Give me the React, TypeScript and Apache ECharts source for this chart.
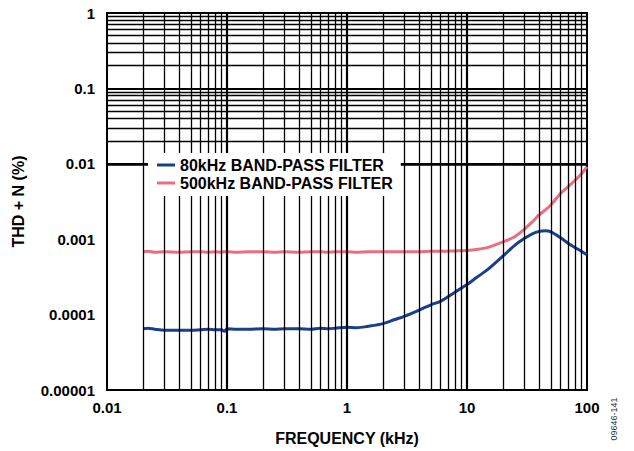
import React, { useEffect, useRef } from "react";
import * as echarts from "echarts";

const freqKHz = [0.02, 0.022, 0.025, 0.03, 0.04, 0.05, 0.06, 0.07, 0.08, 0.09, 0.095, 0.1, 0.12, 0.15, 0.2, 0.25, 0.3, 0.4, 0.5, 0.6, 0.7, 0.8, 1, 1.2, 1.5, 2, 2.5, 3, 4, 5, 6, 8, 10, 12, 15, 20, 25, 30, 35, 40, 45, 50, 60, 70, 80, 90, 100];

const bp80kHz = [6.5e-5, 6.6e-5, 6.4e-5, 6.2e-5, 6.2e-5, 6.2e-5, 6.3e-5, 6.4e-5, 6.3e-5, 6.3e-5, 6.0e-5, 6.5e-5, 6.4e-5, 6.4e-5, 6.5e-5, 6.4e-5, 6.5e-5, 6.5e-5, 6.4e-5, 6.6e-5, 6.5e-5, 6.6e-5, 6.8e-5, 6.7e-5, 7.0e-5, 7.6e-5, 8.6e-5, 9.5e-5, 1.15e-4, 1.35e-4, 1.5e-4, 2.0e-4, 2.5e-4, 3.1e-4, 4.0e-4, 6.0e-4, 8.3e-4, 1.02e-3, 1.18e-3, 1.27e-3, 1.29e-3, 1.25e-3, 1.05e-3, 8.8e-4, 7.7e-4, 6.9e-4, 6.2e-4];

const bp500kHz = [6.8e-4, 6.9e-4, 6.7e-4, 6.8e-4, 6.7e-4, 6.8e-4, 6.8e-4, 6.7e-4, 6.8e-4, 6.7e-4, 6.8e-4, 6.8e-4, 6.7e-4, 6.8e-4, 6.8e-4, 6.7e-4, 6.8e-4, 6.7e-4, 6.8e-4, 6.8e-4, 6.7e-4, 6.8e-4, 6.8e-4, 6.7e-4, 6.8e-4, 6.8e-4, 6.8e-4, 6.8e-4, 6.8e-4, 6.9e-4, 6.9e-4, 7.0e-4, 7.1e-4, 7.3e-4, 7.8e-4, 9.2e-4, 1.08e-3, 1.35e-3, 1.7e-3, 2.1e-3, 2.45e-3, 2.85e-3, 4.0e-3, 5.0e-3, 6.1e-3, 7.4e-3, 9.1e-3];

const seriesNames = ["80kHz BAND-PASS FILTER", "500kHz BAND-PASS FILTER"];
const xTickLabels = ["0.01", "0.1", "1", "10", "100"];
const yTickLabels = ["0.00001", "0.0001", "0.001", "0.01", "0.1", "1"];
const xDecadeStarts = [0.01, 0.1, 1, 10];
const yDecadeStarts = [0.00001, 0.0001, 0.001, 0.01, 0.1];

const FONT = "'Liberation Sans', Arial, Helvetica, sans-serif";

function buildGridLines() {
  const lines: any[] = [];
  xDecadeStarts.forEach((d, i) => {
    for (let k = 1; k <= 9; k++) {
      if (i === 0 && k === 1) continue;
      const v = Number((d * k).toPrecision(6));
      lines.push({ xAxis: v, lineStyle: { width: k === 1 ? 2.2 : 1.3, color: "#000", type: "solid" } });
    }
  });
  yDecadeStarts.forEach((d, i) => {
    for (let k = 1; k <= 9; k++) {
      if (i === 0 && k === 1) continue;
      const v = Number((d * k).toPrecision(6));
      lines.push({ yAxis: v, lineStyle: { width: k === 1 ? 1.8 : 1.3, color: "#000", type: "solid" } });
    }
  });
  return lines;
}

export default function App() {
  const ref = useRef<HTMLDivElement>(null);
  useEffect(() => {
    document.body.style.margin = "0";
    if (!ref.current) return;
    const chart = echarts.init(ref.current, undefined, { renderer: "svg" });
    const labelFromExp = (arr: string[], base: number) => (v: number) => {
      const e = Math.round(Math.log10(v)) - base;
      return arr[e] ?? "";
    };
    chart.setOption({
      animation: false,
      backgroundColor: "#fff",
      grid: { left: 107, right: 47, top: 13, bottom: 55, show: true, borderColor: "#000", borderWidth: 2, backgroundColor: "transparent" },
      xAxis: {
        type: "log",
        logBase: 10,
        min: 0.01,
        max: 100,
        name: "FREQUENCY (kHz)",
        nameLocation: "middle",
        nameGap: 40,
        nameTextStyle: { fontFamily: FONT, fontWeight: "bold", fontSize: 16, color: "#000" },
        axisLine: { show: false },
        axisTick: { show: false },
        splitLine: { show: false },
        minorTick: { show: false },
        axisLabel: { formatter: labelFromExp(xTickLabels, -2), fontFamily: FONT, fontWeight: "bold", fontSize: 15, color: "#000", margin: 10 },
      },
      yAxis: {
        type: "log",
        logBase: 10,
        min: 0.00001,
        max: 1,
        name: "THD + N (%)",
        nameLocation: "middle",
        nameGap: 81,
        nameRotate: 90,
        nameTextStyle: { fontFamily: FONT, fontWeight: "bold", fontSize: 16, color: "#000" },
        axisLine: { show: false },
        axisTick: { show: false },
        splitLine: { show: false },
        axisLabel: { formatter: labelFromExp(yTickLabels, -5), fontFamily: FONT, fontWeight: "bold", fontSize: 15, color: "#000", margin: 12 },
      },
      legend: {
        data: seriesNames,
        orient: "vertical",
        left: 148,
        top: 153,
        backgroundColor: "#fff",
        padding: [4, 8, 5, 9],
        itemGap: 2,
        itemWidth: 18,
        itemHeight: 3,
        icon: "rect",
        textStyle: { fontFamily: FONT, fontWeight: "bold", fontSize: 16, color: "#000", lineHeight: 16 },
        z: 10,
      },
      graphic: [
        {
          type: "text",
          x: 614,
          y: 419,
          rotation: Math.PI / 2,
          style: { text: "09646-141", fontFamily: FONT, fontSize: 9, fill: "#333", textAlign: "center", textVerticalAlign: "middle" },
        },
      ],
      series: [
        {
          name: "gridlines",
          type: "line",
          data: [[0.01, 0.00001]],
          showSymbol: false,
          lineStyle: { opacity: 0 },
          silent: true,
          z: 1,
          markLine: {
            silent: true,
            animation: false,
            symbol: ["none", "none"],
            label: { show: false },
            emphasis: { disabled: true },
            data: buildGridLines(),
          },
        },
        {
          name: seriesNames[0],
          type: "line",
          data: freqKHz.map((f, i) => [f, bp80kHz[i]]),
          showSymbol: false,
          smooth: 0.3,
          color: "#193f8b",
          lineStyle: { width: 3, color: "#193f8b" },
          z: 3,
        },
        {
          name: seriesNames[1],
          type: "line",
          data: freqKHz.map((f, i) => [f, bp500kHz[i]]),
          showSymbol: false,
          smooth: 0.3,
          color: "#ec6c81",
          lineStyle: { width: 3, color: "#ec6c81" },
          z: 3,
        },
      ],
    });
    return () => chart.dispose();
  }, []);
  return <div ref={ref} style={{ width: 634, height: 451 }} />;
}
